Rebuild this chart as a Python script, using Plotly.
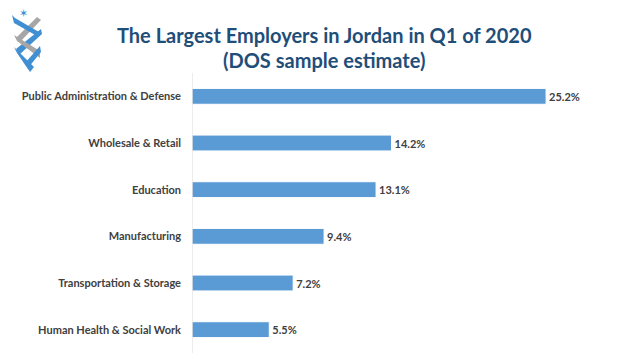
import plotly.graph_objects as go

categories = ["Public Administration & Defense", "Wholesale & Retail", "Education",
              "Manufacturing", "Transportation & Storage", "Human Health & Social Work"]
values = [25.2, 14.2, 13.1, 9.4, 7.2, 5.5]
labels = [f"{v:.1f}%" for v in values]

title_line1 = "The Largest Employers in Jordan in Q1 of 2020"
title_line2 = "(DOS sample estimate)"

W, H = 640, 360
ML, MR, MT, MB = 192, 20, 73, 7
PW, PH = W - ML - MR, H - MT - MB


def px(x):
    return (x - ML) / PW


def py(y):
    return (H - MB - y) / PH


fig = go.Figure(go.Bar(
    x=values, y=categories, orientation="h",
    marker=dict(color="#5b9bd5", line=dict(color="#ffffff", width=1)),
    text=labels, textposition="outside", cliponaxis=False,
    textfont=dict(family="Lato", size=11, color="#404040", weight="bold"),
    hoverinfo="skip",
))

fig.update_layout(
    width=W, height=H,
    margin=dict(l=ML, r=MR, t=MT, b=MB),
    paper_bgcolor="white", plot_bgcolor="white",
    bargap=0.66,
    showlegend=False,
    xaxis=dict(range=[0, 30.46], visible=False),
    yaxis=dict(autorange="reversed", showgrid=False, zeroline=False, automargin=False,
               showline=False, ticks="", ticklabelstandoff=10,
               tickfont=dict(family="Lato", size=11, color="#404040", weight="bold")),
    annotations=[
        dict(text=f"<b>{title_line1}</b>", xref="paper", yref="paper",
             x=px(324), y=py(35), xanchor="center", yanchor="middle", showarrow=False,
             font=dict(family="Lato", size=20, color="#1f4e79")),
        dict(text=f"<b>{title_line2}</b>", xref="paper", yref="paper",
             x=px(324), y=py(60), xanchor="center", yanchor="middle", showarrow=False,
             font=dict(family="Lato", size=20, color="#1f4e79")),
        dict(text="✶", xref="paper", yref="paper", x=px(23), y=py(13),
             xanchor="center", yanchor="middle", showarrow=False,
             font=dict(family="DejaVu Sans", size=11, color="#3f8fd2")),
    ],
)

fig.add_shape(type="line", xref="x", yref="paper", x0=0, x1=0, y0=0, y1=1.0,
              line=dict(color="#d9d9d9", width=1))

# simple logo approximation (top-left), pixel polygons
logo = [
    ([(37, 17), (41, 20), (20, 42), (16, 38)], "#a6a6a6"),
    ([(12, 15), (15, 18), (39, 32), (37, 36), (14, 23)], "#3f8fd2"),
    ([(41, 29), (42, 34), (20, 54), (16, 49)], "#3f8fd2"),
    ([(14, 35), (17, 41), (40, 58), (40, 51)], "#a6a6a6"),
    ([(14, 47), (17, 53), (30, 72), (34, 67)], "#3f8fd2"),
    ([(40, 46), (41, 52), (28, 68), (25, 63)], "#3f8fd2"),
]
for pts, col in logo:
    path = "M " + " L ".join(f"{px(x):.5f},{py(y):.5f}" for x, y in pts) + " Z"
    fig.add_shape(type="path", path=path, xref="paper", yref="paper",
                  fillcolor=col, line=dict(width=0), layer="above")

fig.write_html("out.html", config={"displayModeBar": False},
               post_script="document.body.style.margin='0';")
